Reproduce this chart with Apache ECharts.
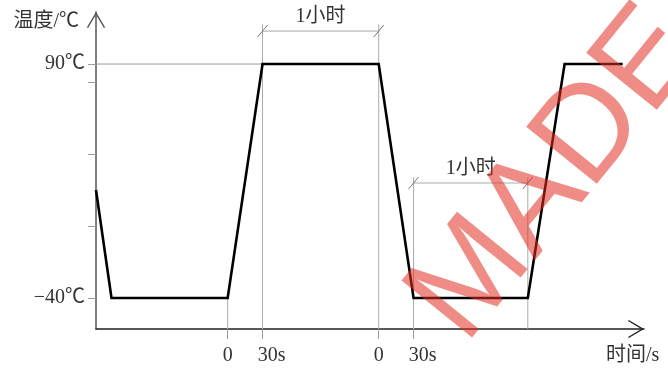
<!DOCTYPE html>
<html><head><meta charset="utf-8">
<script src="https://cdn.jsdelivr.net/npm/echarts@6/dist/echarts.min.js"></script>
<style>html,body{margin:0;padding:0;background:#fff}#c{width:668px;height:371px}</style>
</head><body><div id="c"></div>
<script>
// schematic time (minutes-like units) and temperature (°C)
const timeX = [0, 8, 68, 86, 146, 164, 223, 242, 272];
const tempY = [20, -40, -40, 90, 90, -40, -40, 90, 90];
const xTickValues = [68, 86, 146, 164];
const xTickLabels = ['0', '30s', '0', '30s'];
const yTickValues = [-40, 0, 40, 80, 90];
const yLabelValues = [90, -40];
const dimStart = [86, 164];
const dimEnd = [146, 223];
const dimLevel = [108.3, 23.9];
const dimLabels = ['1小时', '1小时'];
const guideX = [68, 86, 146, 164, 223];
const guideTop = [-40, 112, 112, 27, 27];
const refLineX = [0, 86];
const refLineY = [90, 90];
const X_MAX = 283, Y_MIN = -57.2, Y_MAX = 118.9;

const FONT = '"Liberation Serif","Noto Sans CJK SC",serif';
const FS = 20;
const TXT = '#333';
const CHEV = 'path://M0 15 L9 0 L18 15 L16.8 15.8 L9 2.6 L1.2 15.8 Z';

const chart = echarts.init(document.getElementById('c'), null, {renderer: 'canvas'});

const series = [];
guideX.forEach((x, i) => {
  series.push({type: 'line', data: [[x, guideTop[i]], [x, Y_MIN]], symbol: 'none', silent: true, z: 1,
    lineStyle: {color: '#aaa', width: 1}});
});
series.push({type: 'line', data: refLineX.map((x, i) => [x, refLineY[i]]), symbol: 'none', silent: true, z: 1,
  lineStyle: {color: '#999', width: 1}});
series.push({type: 'custom', silent: true, z: 2,
  data: dimStart.map((s, i) => [s, dimEnd[i], dimLevel[i]]),
  renderItem: function (params, api) {
    const p1 = api.coord([api.value(0), api.value(2)]);
    const p2 = api.coord([api.value(1), api.value(2)]);
    const sx = 5, sy = 6;
    return {type: 'group', children: [
      {type: 'line', shape: {x1: p1[0], y1: p1[1], x2: p2[0], y2: p2[1]}, style: {stroke: '#aaa', lineWidth: 1}},
      {type: 'line', shape: {x1: p1[0] - sx, y1: p1[1] + sy, x2: p1[0] + sx, y2: p1[1] - sy}, style: {stroke: '#777', lineWidth: 1}},
      {type: 'line', shape: {x1: p2[0] - sx, y1: p2[1] + sy, x2: p2[0] + sx, y2: p2[1] - sy}, style: {stroke: '#777', lineWidth: 1}},
      {type: 'text', style: {text: dimLabels[params.dataIndex], x: (p1[0] + p2[0]) / 2, y: p1[1] - 14,
        align: 'center', verticalAlign: 'middle', font: FS + 'px ' + FONT, fill: TXT}}
    ]};
  }
});
series.push({type: 'line', data: timeX.map((x, i) => [x, tempY[i]]), symbol: 'none', z: 3,
  lineStyle: {color: '#000', width: 2.6, join: 'miter'}});

chart.setOption({
  animation: false,
  backgroundColor: '#fff',
  grid: {left: 96, right: 24, top: 12, bottom: 42, containLabel: false},
  xAxis: {
    type: 'value', min: 0, max: X_MAX,
    axisLine: {show: true, onZero: false, symbol: ['none', CHEV], symbolSize: [19, 16], symbolOffset: [0, -8],
      lineStyle: {color: '#222', width: 1.5}},
    axisTick: {show: true, customValues: xTickValues, length: 10, lineStyle: {color: '#999', width: 1}},
    axisLabel: {customValues: xTickValues, margin: 17, fontSize: FS, fontFamily: FONT, color: TXT,
      formatter: function (v) {
        const t = xTickLabels[xTickValues.indexOf(v)];
        return t === '0' ? t : '{s|' + t + '}';
      },
      rich: {s: {padding: [0, 0, 0, 18], fontSize: FS, fontFamily: FONT, color: TXT}}
    },
    splitLine: {show: false}
  },
  yAxis: {
    type: 'value', min: Y_MIN, max: Y_MAX,
    axisLine: {show: true, onZero: false, symbol: ['none', CHEV], symbolSize: [19, 16], symbolOffset: [0, -8],
      lineStyle: {color: '#555', width: 1.5}},
    axisTick: {show: true, customValues: yTickValues, length: 8, lineStyle: {color: '#999', width: 1}},
    axisLabel: {customValues: yLabelValues, margin: 11, fontSize: FS, fontFamily: FONT, color: TXT,
      formatter: function (v) { return (v < 0 ? '\u2212' + (-v) : v) + '℃'; }},
    splitLine: {show: false}
  },
  graphic: [
    {type: 'text', x: 79, y: 22, style: {text: '温度/℃', font: FS + 'px ' + FONT, fill: TXT, align: 'right', verticalAlign: 'middle'}},
    {type: 'text', x: 606, y: 356, style: {text: '时间/s', font: FS + 'px ' + FONT, fill: TXT, align: 'left', verticalAlign: 'middle'}},
    {type: 'text', x: 557, y: 175, rotation: 51 * Math.PI / 180, z: 100, silent: true,
      style: {text: 'MADE', font: '132px "Liberation Sans",sans-serif', fill: 'rgba(225,45,35,0.55)', align: 'center', verticalAlign: 'middle'}}
  ],
  series: series
});
</script></body></html>
